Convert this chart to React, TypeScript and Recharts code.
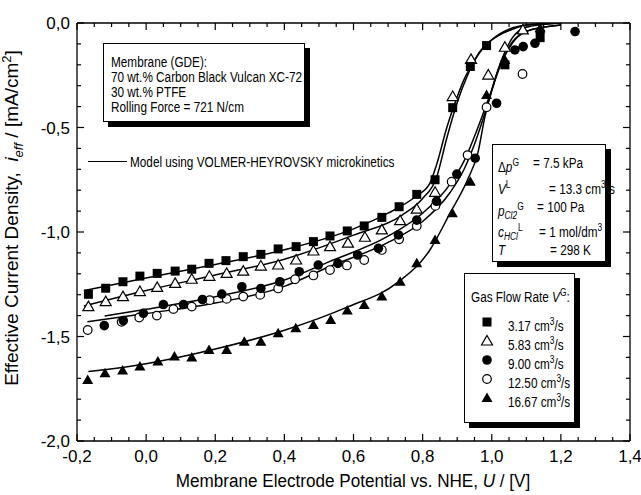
import React from 'react';
import { ComposedChart, Scatter, Line, XAxis, YAxis } from 'recharts';

// measured points: [U (V vs NHE), i_eff (mA/cm2)]
const flow317: [number, number][] = [
  [-0.167, -1.298], [-0.117, -1.269], [-0.067, -1.238], [-0.018, -1.211], [0.032, -1.198],
  [0.084, -1.187], [0.132, -1.178], [0.182, -1.150], [0.231, -1.137], [0.281, -1.118],
  [0.332, -1.107], [0.382, -1.081], [0.434, -1.070], [0.484, -1.046], [0.532, -1.019],
  [0.582, -0.995], [0.631, -0.971], [0.682, -0.930], [0.732, -0.879], [0.783, -0.820],
  [0.836, -0.750], [0.887, -0.405], [0.938, -0.208], [0.985, -0.108], [1.038, -0.200],
  [1.140, -0.070],
];
const flow583: [number, number][] = [
  [-0.167, -1.357], [-0.117, -1.333], [-0.067, -1.309], [-0.018, -1.285], [0.032, -1.265],
  [0.084, -1.246], [0.132, -1.226], [0.183, -1.212], [0.233, -1.198], [0.281, -1.187],
  [0.332, -1.163], [0.382, -1.158], [0.434, -1.134], [0.484, -1.091], [0.532, -1.070],
  [0.584, -1.053], [0.633, -1.025], [0.682, -0.990], [0.735, -0.946], [0.783, -0.891],
  [0.836, -0.810], [0.887, -0.352], [0.940, -0.174], [0.990, -0.249], [1.038, -0.116],
  [1.090, -0.033],
];
const flow900: [number, number][] = [
  [-0.121, -1.448], [-0.066, -1.424], [-0.008, -1.389], [0.050, -1.347], [0.108, -1.347],
  [0.163, -1.323], [0.219, -1.297], [0.277, -1.262], [0.332, -1.270], [0.387, -1.238],
  [0.443, -1.190], [0.498, -1.158], [0.555, -1.150], [0.612, -1.110], [0.672, -1.078],
  [0.730, -1.014], [0.783, -0.943], [0.840, -0.853], [0.899, -0.723], [0.952, -0.647],
  [1.014, -0.384], [1.067, -0.129], [1.091, -0.113], [1.125, -0.097], [1.140, -0.041],
  [1.241, -0.041],
];
const flow1250: [number, number][] = [
  [-0.169, -1.469], [-0.071, -1.430], [-0.020, -1.409], [0.031, -1.400], [0.079, -1.369],
  [0.132, -1.357], [0.184, -1.326], [0.233, -1.320], [0.281, -1.309], [0.330, -1.301],
  [0.382, -1.270], [0.431, -1.226], [0.484, -1.208], [0.532, -1.182], [0.581, -1.160],
  [0.631, -1.134], [0.682, -1.086], [0.732, -1.035], [0.783, -0.971], [0.837, -0.875],
  [0.884, -0.759], [0.930, -0.632], [0.985, -0.403], [1.089, -0.244],
];
const flow1667: [number, number][] = [
  [-0.169, -1.708], [-0.119, -1.676], [-0.068, -1.663], [-0.018, -1.644], [0.034, -1.620],
  [0.082, -1.596], [0.132, -1.600], [0.182, -1.565], [0.233, -1.565], [0.284, -1.525],
  [0.332, -1.525], [0.382, -1.485], [0.433, -1.461], [0.484, -1.445], [0.534, -1.421],
  [0.582, -1.375], [0.631, -1.349], [0.682, -1.309], [0.735, -1.238], [0.783, -1.150],
  [0.836, -1.038], [0.886, -0.910], [0.938, -0.759], [0.985, -0.344], [1.038, -0.177],
  [1.140, -0.025],
];

// model curves (Volmer-Heyrovsky)
const model317: [number, number][] = [
  [-0.18, -1.28], [0.0, -1.22], [0.2, -1.155], [0.4, -1.085], [0.6, -0.985], [0.7, -0.91],
  [0.78, -0.83], [0.82, -0.77], [0.84, -0.68], [0.87, -0.50], [0.89, -0.40], [0.92, -0.27],
  [0.95, -0.18], [0.98, -0.11], [1.02, -0.06], [1.06, -0.03], [1.1, -0.01], [1.2, 0],
];
const model583: [number, number][] = [
  [-0.18, -1.354], [0.0, -1.28], [0.2, -1.206], [0.4, -1.13], [0.6, -1.015], [0.74, -0.92],
  [0.80, -0.84], [0.84, -0.74], [0.87, -0.55], [0.90, -0.38], [0.93, -0.25], [0.96, -0.15],
  [1.0, -0.08], [1.05, -0.03], [1.1, -0.01], [1.2, 0],
];
const model900: [number, number][] = [
  [-0.12, -1.402], [0.0, -1.37], [0.2, -1.31], [0.4, -1.23], [0.53, -1.142], [0.7, -1.02],
  [0.80, -0.91], [0.88, -0.77], [0.92, -0.66], [0.96, -0.50], [1.0, -0.32], [1.03, -0.18],
  [1.06, -0.09], [1.1, -0.04], [1.2, -0.01],
];
const model1250: [number, number][] = [
  [-0.17, -1.429], [0.0, -1.39], [0.2, -1.34], [0.4, -1.26], [0.53, -1.166], [0.7, -1.05],
  [0.80, -0.95], [0.88, -0.81], [0.92, -0.70], [0.95, -0.58], [0.99, -0.38], [1.02, -0.22],
  [1.05, -0.12], [1.1, -0.04], [1.2, -0.01],
];
const model1667: [number, number][] = [
  [-0.167, -1.668], [0.0, -1.63], [0.2, -1.56], [0.4, -1.47], [0.585, -1.357], [0.725, -1.245],
  [0.821, -1.086], [0.879, -0.911], [0.93, -0.75], [0.96, -0.62], [0.98, -0.45], [1.0, -0.32],
  [1.03, -0.17], [1.06, -0.07], [1.1, -0.02], [1.2, 0],
];

const xMajor = [-0.2, 0, 0.2, 0.4, 0.6, 0.8, 1.0, 1.2, 1.4];
const yMajor = [-2, -1.5, -1, -0.5, 0];
const xTicks = xMajor.flatMap((v, k) => (k === 0 ? [v] : [v - 0.15, v - 0.1, v - 0.05, v]));
const yTicks = yMajor.flatMap((v, k) => (k === 0 ? [v] : [v - 0.4, v - 0.3, v - 0.2, v - 0.1, v]));

const toPts = (arr: [number, number][]) => arr.map(([u, i]) => ({ u, i }));
const fmt = (v: number) => v.toFixed(1).replace('.', ',');
const isMajor = (v: number, step: number) => Math.abs(v / step - Math.round(v / step)) < 1e-6;

const FONT = "'Liberation Sans', Arial, sans-serif";

const XTick = (props: any) => {
  const { x, y, payload, side } = props;
  const major = isMajor(payload.value, 0.2);
  const len = major ? 7 : 4;
  return (
    <g>
      <line x1={x} x2={x} y1={y} y2={side === 'top' ? y + len : y - len} stroke="#000" strokeWidth={1.2} />
      {side !== 'top' && major && (
        <text x={x} y={y + 21} textAnchor="middle" fontSize={17} fontFamily={FONT} fill="#000">
          {fmt(payload.value)}
        </text>
      )}
    </g>
  );
};

const YTick = (props: any) => {
  const { x, y, payload, side } = props;
  const major = isMajor(payload.value, 0.5);
  const len = major ? 7 : 4;
  return (
    <g>
      <line x1={x} x2={side === 'right' ? x - len : x + len} y1={y} y2={y} stroke="#000" strokeWidth={1.2} />
      {side !== 'right' && major && (
        <text x={x - 7} y={y + 6} textAnchor="end" fontSize={17} fontFamily={FONT} fill="#000">
          {fmt(payload.value)}
        </text>
      )}
    </g>
  );
};

const Square = ({ cx, cy }: any) => <rect x={cx - 4.5} y={cy - 4.5} width={9} height={9} fill="#000" />;
const TriOpen = ({ cx, cy }: any) => (
  <polygon points={`${cx},${cy - 5.5} ${cx + 5.5},${cy + 4} ${cx - 5.5},${cy + 4}`} fill="#fff" stroke="#000" strokeWidth={1.2} />
);
const TriFilled = ({ cx, cy }: any) => (
  <polygon points={`${cx},${cy - 5.5} ${cx + 5.5},${cy + 4} ${cx - 5.5},${cy + 4}`} fill="#000" />
);
const DotFilled = ({ cx, cy }: any) => <circle cx={cx} cy={cy} r={4.8} fill="#000" />;
const DotOpen = ({ cx, cy }: any) => <circle cx={cx} cy={cy} r={4.3} fill="#fff" stroke="#000" strokeWidth={1.2} />;

const boxStyle: React.CSSProperties = {
  position: 'absolute',
  background: '#fff',
  border: '1px solid #000',
  boxShadow: '5px 5px 0 #000',
  boxSizing: 'border-box',
};

// narrow annotation text: Liberation Sans squeezed horizontally
const txt = (left: number, top: number, extra: React.CSSProperties = {}): React.CSSProperties => ({
  position: 'absolute',
  left,
  top,
  whiteSpace: 'nowrap',
  lineHeight: '16px',
  fontFamily: FONT,
  fontSize: 14,
  color: '#000',
  transform: 'scaleX(0.84)',
  transformOrigin: 'left center',
  ...extra,
});

const sup = { fontSize: 10 } as React.CSSProperties;

const legendRows = [
  { label: '3.17', Shape: Square },
  { label: '5.83', Shape: TriOpen },
  { label: '9.00', Shape: DotFilled },
  { label: '12.50', Shape: DotOpen },
  { label: '16.67', Shape: TriFilled },
];
const rowY = [322, 341, 360, 379, 398];

const axisProps = {
  type: 'number' as const,
  interval: 0 as const,
  tickSize: 0,
  tickMargin: 0,
  allowDataOverflow: true,
  axisLine: { stroke: '#000', strokeWidth: 1.3 },
};

export default function App() {
  const models = [model317, model583, model900, model1250, model1667];
  return (
    <div style={{ position: 'absolute', left: 0, top: 0, width: 641, height: 495, background: '#fff', overflow: 'hidden' }}>
      <ComposedChart width={641} height={495} margin={{ top: 22, right: 10, bottom: 53, left: 76 }}>
        <XAxis xAxisId="b" dataKey="u" domain={[-0.2, 1.4]} ticks={xTicks} height={1} tick={<XTick side="bottom" />} {...axisProps} />
        <XAxis xAxisId="t" orientation="top" dataKey="u" domain={[-0.2, 1.4]} ticks={xTicks} height={1} tick={<XTick side="top" />} {...axisProps} />
        <YAxis yAxisId="l" domain={[-2, 0]} ticks={yTicks} width={1} tick={<YTick side="left" />} {...axisProps} />
        <YAxis yAxisId="r" orientation="right" domain={[-2, 0]} ticks={yTicks} width={1} tick={<YTick side="right" />} {...axisProps} />
        {models.map((m, k) => (
          <Line
            key={'m' + k}
            xAxisId="b"
            yAxisId="l"
            data={toPts(m)}
            dataKey="i"
            type="monotone"
            stroke="#000"
            strokeWidth={1.5}
            dot={false}
            activeDot={false}
            isAnimationActive={false}
          />
        ))}
        <Scatter xAxisId="b" yAxisId="l" data={toPts(flow1250)} dataKey="i" shape={DotOpen} isAnimationActive={false} />
        <Scatter xAxisId="b" yAxisId="l" data={toPts(flow900)} dataKey="i" shape={DotFilled} isAnimationActive={false} />
        <Scatter xAxisId="b" yAxisId="l" data={toPts(flow583)} dataKey="i" shape={TriOpen} isAnimationActive={false} />
        <Scatter xAxisId="b" yAxisId="l" data={toPts(flow317)} dataKey="i" shape={Square} isAnimationActive={false} />
        <Scatter xAxisId="b" yAxisId="l" data={toPts(flow1667)} dataKey="i" shape={TriFilled} isAnimationActive={false} />
      </ComposedChart>

      {/* axis titles */}
      <div
        style={{
          position: 'absolute',
          left: 353,
          top: 481,
          whiteSpace: 'nowrap',
          fontFamily: FONT,
          fontSize: 18,
          lineHeight: '20px',
          transform: 'translate(-50%, -50%) scaleX(0.95)',
        }}
      >
        Membrane Electrode Potential vs. NHE, <i>U</i> / [V]
      </div>
      <div
        style={{
          position: 'absolute',
          left: 13,
          top: 218,
          whiteSpace: 'nowrap',
          fontFamily: FONT,
          fontSize: 19,
          lineHeight: '22px',
          transform: 'translate(-50%, -50%) rotate(-90deg)',
        }}
      >
        Effective Current Density,&nbsp;&nbsp;<i>i</i>
        <sub style={{ fontSize: 13 }}>
          <i>eff</i>
        </sub>{' '}
        / [mA/cm<sup style={{ fontSize: 13 }}>2</sup>]
      </div>

      {/* membrane box */}
      <div style={{ ...boxStyle, left: 103, top: 43, width: 202, height: 79 }} />
      <div style={txt(111, 54)}>Membrane (GDE):</div>
      <div style={txt(111, 69)}>70 wt.% Carbon Black Vulcan XC-72</div>
      <div style={txt(111, 84)}>30 wt.% PTFE</div>
      <div style={txt(111, 99)}>Rolling Force = 721 N/cm</div>

      {/* model legend */}
      <div style={{ position: 'absolute', left: 88, top: 161, width: 39, height: 0, borderTop: '1.5px solid #000' }} />
      <div style={txt(130, 154)}>Model using VOLMER-HEYROVSKY microkinetics</div>

      {/* parameter box */}
      <div style={{ ...boxStyle, left: 492, top: 144, width: 114, height: 118 }} />
      <div style={txt(498, 155)}>
        Δ<i>p</i>
        <sup style={sup}>G</sup>
      </div>
      <div style={txt(533, 155)}>= 7.5 kPa</div>
      <div style={txt(498, 177)}>
        <i>V</i>
        <sup style={sup}>L</sup>
      </div>
      <div style={txt(549, 177)}>
        = 13.3 cm<sup style={sup}>3</sup>/s
      </div>
      <div style={txt(498, 199)}>
        <i>p</i>
        <sub style={sup}>
          <i>Cl2</i>
        </sub>
        <sup style={sup}>G</sup>
      </div>
      <div style={txt(537, 199)}>= 100 Pa</div>
      <div style={txt(498, 220)}>
        <i>c</i>
        <sub style={sup}>
          <i>HCl</i>
        </sub>
        <sup style={sup}>L</sup>
      </div>
      <div style={txt(539, 220)}>
        = 1 mol/dm<sup style={sup}>3</sup>
      </div>
      <div style={txt(498, 242)}>
        <i>T</i>
      </div>
      <div style={txt(550, 242)}>= 298 K</div>

      {/* flow rate legend */}
      <div style={{ ...boxStyle, left: 464, top: 273, width: 111, height: 150 }} />
      <div style={txt(471, 285)}>
        Gas Flow Rate <i>V</i>
        <sup style={sup}>G</sup>:
      </div>
      <svg style={{ position: 'absolute', left: 0, top: 0 }} width={641} height={495} pointerEvents="none">
        {legendRows.map((r, k) => (
          <r.Shape key={k} cx={487} cy={rowY[k]} />
        ))}
      </svg>
      {legendRows.map((r, k) => (
        <div key={k} style={txt(508, rowY[k] - 8)}>
          {r.label} cm<sup style={sup}>3</sup>/s
        </div>
      ))}
    </div>
  );
}
